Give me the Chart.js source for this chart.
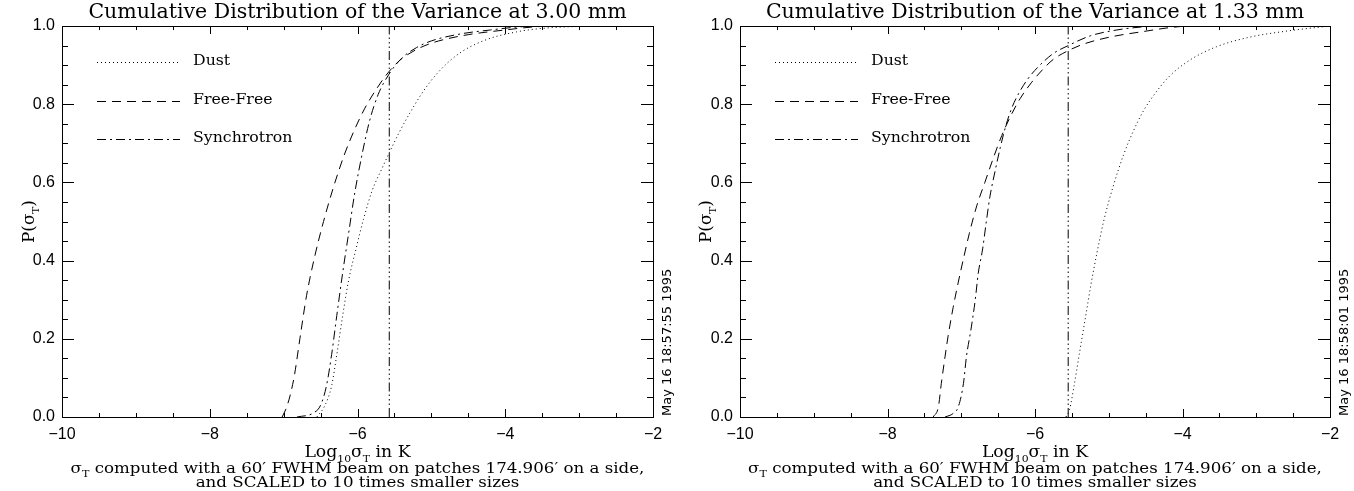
<!DOCTYPE html>
<html><head><meta charset="utf-8">
<script src="https://cdn.jsdelivr.net/npm/chart.js@4"></script>
<style>
html,body{margin:0;padding:0;background:#fff;}
#wrap{position:relative;width:1354px;height:491px;background:#fff;}
.box{position:absolute;top:0;width:677px;height:491px;}
canvas{display:block;}
</style></head><body>
<div id="wrap">
<div class="box" style="left:0"><canvas id="c1" width="677" height="491"></canvas></div>
<div class="box" style="left:677px"><canvas id="c2" width="677" height="491"></canvas></div>
</div>
<script>
// ---- text ----
const panelTitles = ['Cumulative Distribution of the Variance at 3.00 mm', 'Cumulative Distribution of the Variance at 1.33 mm'];
const seriesNames = ['Dust', 'Free-Free', 'Synchrotron'];
const dateStamps = ['May 16 18:57:55 1995', 'May 16 18:58:01 1995'];
const captionLine1 = ' computed with a 60\u2032 FWHM beam on patches 174.906\u2032 on a side,';
const captionLine2 = 'and SCALED to 10 times smaller sizes';

// ---- ticks ----
const xTicks = [-10, -8, -6, -4, -2];
const xTickLabels = ['\u221210', '\u22128', '\u22126', '\u22124', '\u22122'];
const yTicks = [0, 0.2, 0.4, 0.6, 0.8, 1.0];
const yTickLabels = ['0.0', '0.2', '0.4', '0.6', '0.8', '1.0'];

// ---- data: 3.00 mm panel [log10 sigma, P] ----
const dust300 = [[-6.55,0],[-6.44,0.03],[-6.35,0.08],[-6.28,0.16],[-6.2,0.26],[-6.12,0.35],[-6.02,0.43],[-5.92,0.505],[-5.8,0.58],[-5.67,0.635],[-5.56,0.68],[-5.43,0.73],[-5.29,0.778],[-5.11,0.833],[-4.93,0.877],[-4.66,0.925],[-4.3,0.962],[-3.85,0.985],[-3.5,0.994],[-3.0,0.999],[-2.6,1.0],[-2,1.0]];
const freeFree300 = [[-7.02,0],[-6.95,0.03],[-6.86,0.1],[-6.78,0.2],[-6.69,0.31],[-6.58,0.41],[-6.46,0.5],[-6.33,0.585],[-6.18,0.67],[-6.04,0.735],[-5.9,0.79],[-5.74,0.84],[-5.58,0.882],[-5.43,0.912],[-5.25,0.935],[-5.1,0.949],[-4.9,0.962],[-4.5,0.978],[-4.0,0.99],[-3.6,0.998],[-3.3,1.0],[-2,1.0]];
const synchrotron300 = [[-6.82,0],[-6.6,0.01],[-6.5,0.03],[-6.42,0.08],[-6.35,0.16],[-6.28,0.26],[-6.2,0.37],[-6.12,0.47],[-6.04,0.57],[-5.94,0.67],[-5.84,0.755],[-5.72,0.825],[-5.58,0.875],[-5.4,0.918],[-5.2,0.945],[-5.0,0.962],[-4.6,0.98],[-4.2,0.99],[-3.8,0.998],[-3.5,1.0],[-2,1.0]];
const marker300 = -5.57;

// ---- data: 1.33 mm panel ----
const dust133 = [[-5.58,0],[-5.53,0.02],[-5.47,0.08],[-5.4,0.16],[-5.32,0.25],[-5.24,0.34],[-5.16,0.42],[-5.07,0.5],[-4.94,0.59],[-4.8,0.67],[-4.67,0.73],[-4.53,0.783],[-4.35,0.833],[-4.17,0.873],[-3.9,0.913],[-3.54,0.947],[-3.08,0.972],[-2.63,0.986],[-2.2,0.996],[-2,1.0]];
const freeFree133 = [[-7.38,0],[-7.31,0.026],[-7.27,0.086],[-7.22,0.154],[-7.18,0.205],[-7.11,0.28],[-7.04,0.345],[-6.97,0.405],[-6.89,0.47],[-6.79,0.54],[-6.68,0.6],[-6.56,0.665],[-6.45,0.72],[-6.33,0.77],[-6.2,0.815],[-6.05,0.855],[-5.9,0.888],[-5.75,0.915],[-5.55,0.937],[-5.34,0.954],[-4.98,0.972],[-4.53,0.986],[-4.13,0.997],[-3.9,1.0],[-2,1.0]];
const synchrotron133 = [[-7.22,0],[-7.11,0.009],[-7.04,0.026],[-6.97,0.086],[-6.93,0.154],[-6.87,0.222],[-6.81,0.3],[-6.77,0.367],[-6.71,0.43],[-6.66,0.5],[-6.61,0.565],[-6.54,0.63],[-6.47,0.69],[-6.4,0.742],[-6.32,0.788],[-6.22,0.828],[-6.1,0.864],[-5.96,0.895],[-5.75,0.93],[-5.55,0.95],[-5.25,0.975],[-4.89,0.99],[-4.53,0.998],[-4.3,1.0],[-2,1.0]];
const marker133 = -5.55;

// ---- styles ----
const DOT = [1, 3], DASH = [9, 6], DASHDOT = [9, 4, 2, 4], DASH3DOT = [9, 3, 1.5, 3, 1.5, 3, 1.5, 3];
const SERIF = '"DejaVu Serif", serif';
const SANS = '"Liberation Sans", sans-serif';

// draws a run of text pieces (with subscripts), stretched horizontally by hs
function drawRich(ctx, parts, x, y, align, size, hs) {
  let w = 0;
  parts.forEach(p => { ctx.font = (p.sub ? Math.round(size * 0.65) : size) + 'px ' + SERIF; p.w = ctx.measureText(p.t).width; w += p.w; });
  ctx.save();
  ctx.translate(align === 'center' ? x - w * hs / 2 : x, y);
  ctx.scale(hs, 1);
  ctx.textBaseline = 'middle'; ctx.textAlign = 'left';
  let cx = 0;
  parts.forEach(p => {
    ctx.font = (p.sub ? Math.round(size * 0.65) : size) + 'px ' + SERIF;
    ctx.fillText(p.t, cx, p.sub ? size * 0.38 : 0);
    cx += p.w;
  });
  ctx.restore();
}

const framePlugin = {
  id: 'frameTicks',
  afterDatasetsDraw(chart) {
    const {ctx, chartArea: a, scales: {x, y}} = chart;
    ctx.save();
    ctx.strokeStyle = '#000'; ctx.lineWidth = 1;
    ctx.strokeRect(Math.round(a.left) + 0.5, Math.round(a.top) + 0.5, Math.round(a.right - a.left), Math.round(a.bottom - a.top));
    ctx.beginPath();
    for (let i = 0; i <= 16; i++) {
      const v = -10 + i * 0.5;
      const px = Math.round(x.getPixelForValue(v)) + 0.5;
      const L = (i % 4 === 0) ? 8 : 4;
      ctx.moveTo(px, a.bottom); ctx.lineTo(px, a.bottom - L);
      ctx.moveTo(px, a.top); ctx.lineTo(px, a.top + L);
    }
    for (let i = 0; i <= 20; i++) {
      const v = i * 0.05;
      const py = Math.round(y.getPixelForValue(v)) + 0.5;
      const L = (i % 4 === 0) ? 12 : 6;
      ctx.moveTo(a.left, py); ctx.lineTo(a.left + L, py);
      ctx.moveTo(a.right, py); ctx.lineTo(a.right - L, py);
    }
    ctx.stroke();
    ctx.restore();
  },
  afterDraw(chart, args, opts) {
    const {ctx, chartArea: a} = chart;
    ctx.save();
    ctx.fillStyle = '#000'; ctx.strokeStyle = '#000'; ctx.lineWidth = 1;
    // legend
    const rowY = [36, 75, 113];
    const dashes = [DOT, DASH, DASHDOT];
    for (let i = 0; i < 3; i++) {
      const yy = Math.round(a.top + rowY[i]) + 0.5;
      ctx.setLineDash(dashes[i]);
      ctx.beginPath(); ctx.moveTo(a.left + 35, yy); ctx.lineTo(a.left + 118, yy); ctx.stroke();
      ctx.setLineDash([]);
      drawRich(ctx, [{t: seriesNames[i]}], a.left + 131, yy - 1, 'left', 15, 1.05);
    }
    const cx = (a.left + a.right) / 2;
    // x title + caption
    drawRich(ctx, [{t: 'Log'}, {t: '10', sub: true}, {t: '\u03C3'}, {t: 'T', sub: true}, {t: ' in K'}], cx, 453, 'center', 16, 1.08);
    drawRich(ctx, [{t: '\u03C3'}, {t: 'T', sub: true}, {t: captionLine1}], cx, 469, 'center', 15, 1.11);
    drawRich(ctx, [{t: captionLine2}], cx, 483.5, 'center', 15, 1.11);
    // y title
    ctx.save();
    ctx.translate(30, (a.top + a.bottom) / 2);
    ctx.rotate(-Math.PI / 2);
    drawRich(ctx, [{t: 'P(\u03C3'}, {t: 'T', sub: true}, {t: ')'}], 0, 0, 'center', 16, 1.05);
    ctx.restore();
    // date stamp
    ctx.save();
    ctx.translate(a.right + 15, a.bottom - 1);
    ctx.rotate(-Math.PI / 2);
    ctx.font = '13px "DejaVu Sans", sans-serif'; ctx.textAlign = 'left'; ctx.textBaseline = 'middle';
    ctx.fillText(opts.stamp, 0, 0);
    ctx.restore();
    ctx.restore();
  }
};

function lineDs(label, arr, dash) {
  return {label, data: arr.map(p => ({x: p[0], y: p[1]})), showLine: true, borderColor: '#000', borderWidth: 1,
    borderDash: dash, pointRadius: 0, cubicInterpolationMode: 'monotone', fill: false};
}

function makeChart(id, idx, dust, ff, syn, mark, yWidth) {
  return new Chart(document.getElementById(id), {
    type: 'scatter',
    data: {datasets: [
      lineDs(seriesNames[0], dust, DOT),
      lineDs(seriesNames[1], ff, DASH),
      lineDs(seriesNames[2], syn, DASHDOT),
      {label: 'marker', data: [{x: mark, y: 0}, {x: mark, y: 1}], showLine: true, borderColor: '#000', borderWidth: 1,
        borderDash: DASH3DOT, pointRadius: 0, tension: 0, fill: false}
    ]},
    options: {
      responsive: false, animation: false, devicePixelRatio: 1,
      layout: {padding: {left: 0, right: 24, top: 0, bottom: 0}},
      plugins: {
        legend: {display: false}, tooltip: {enabled: false},
        title: {display: true, text: panelTitles[idx], fullSize: false, color: '#000',
          font: {family: SERIF, size: 20.5, weight: 'normal', lineHeight: 1.1}, padding: {top: 1.5, bottom: 2}},
        frameTicks: {stamp: dateStamps[idx]}
      },
      scales: {
        x: {type: 'linear', min: -10, max: -2,
          afterBuildTicks: s => { s.ticks = xTicks.map(v => ({value: v})); },
          ticks: {callback: (v, i) => xTickLabels[i], font: {family: SANS, size: 16}, color: '#000', padding: 8, maxRotation: 0, autoSkip: false},
          grid: {display: false, drawTicks: false}, border: {display: false},
          afterFit: s => { s.height = 74; }},
        y: {type: 'linear', min: 0, max: 1,
          afterBuildTicks: s => { s.ticks = yTicks.map(v => ({value: v})); },
          ticks: {callback: (v, i) => yTickLabels[i], font: {family: SANS, size: 16}, color: '#000', padding: 7, autoSkip: false},
          grid: {display: false, drawTicks: false}, border: {display: false},
          afterFit: s => { s.width = yWidth; }}
      }
    },
    plugins: [framePlugin]
  });
}

makeChart('c1', 0, dust300, freeFree300, synchrotron300, marker300, 62);
makeChart('c2', 1, dust133, freeFree133, synchrotron133, marker133, 63);
</script>
</body></html>
